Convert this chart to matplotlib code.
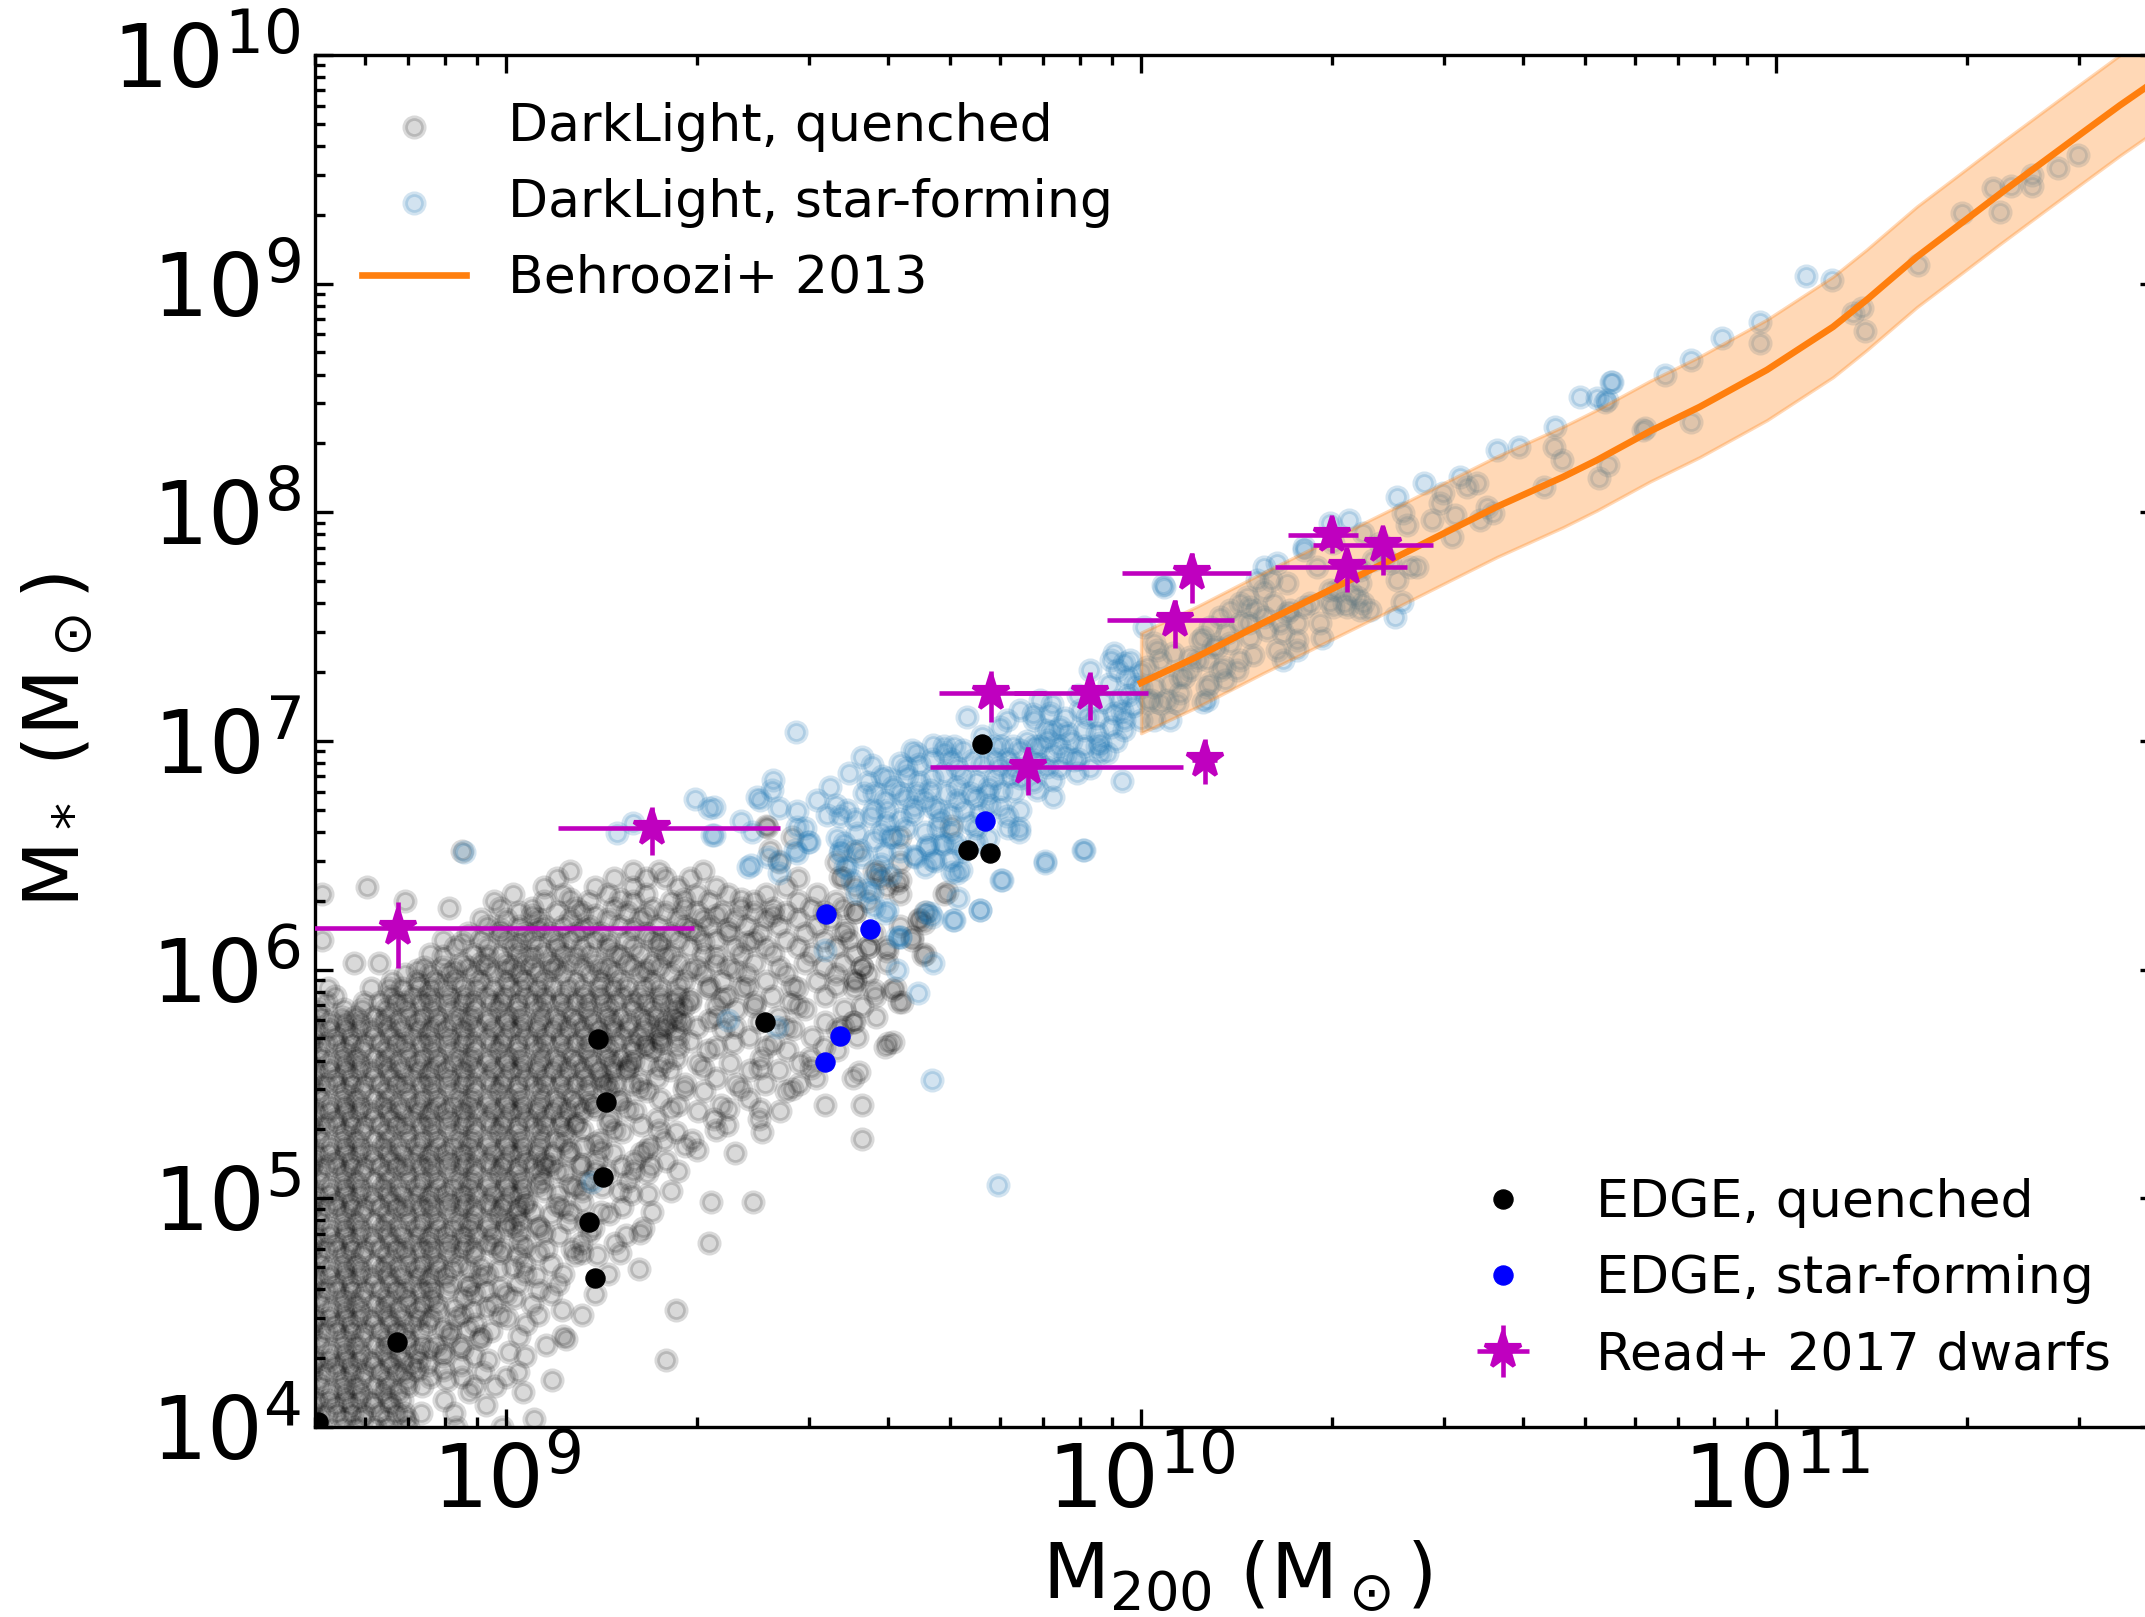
import numpy as np
import matplotlib
matplotlib.use("Agg")
import matplotlib.pyplot as plt
from matplotlib.ticker import LogLocator, NullFormatter, FixedLocator

# ---------------- data (log10 values) ----------------
# DarkLight quenched haloes: rows of (log M*, [log M200 ...])
gray_rows = [
    (4.00, [8.688, 8.709, 8.741, 8.762, 8.793, 8.812, 8.845, 8.921, 8.993]),
    (4.035, [8.703, 8.744, 8.773, 8.811, 8.843, 9.043]),
    (4.06, [8.692, 8.716, 8.733, 8.757, 8.776, 8.801, 8.826, 8.839, 8.866, 8.918]),
    (4.095, [8.697, 8.731, 8.754, 8.790, 8.818, 8.968]),
    (4.12, [8.700, 8.719, 8.748, 8.768, 8.787, 8.815, 8.836, 8.902]),
    (4.155, [8.686, 8.722, 8.746, 8.771, 8.806, 8.829, 8.941, 9.027]),
    (4.18, [8.688, 8.709, 8.741, 8.762, 8.793, 8.812, 8.845, 8.868, 8.949, 8.982]),
    (4.205, [8.703, 8.744, 8.773, 8.811, 8.843, 8.907, 9.072]),
    (4.24, [8.692, 8.716, 8.733, 8.757, 8.776, 8.801, 8.826, 8.839, 8.963, 9.018]),
    (4.27, [8.697, 8.731, 8.754, 8.790, 8.818, 8.851, 8.877, 8.929]),
    (4.295, [8.700, 8.719, 8.748, 8.768, 8.787, 8.815, 8.836, 8.862, 8.972, 9.251]),
    (4.33, [8.686, 8.722, 8.746, 8.771, 8.806, 8.829, 8.859, 8.901, 9.004]),
    (4.36, [8.688, 8.709, 8.741, 8.762, 8.793, 8.812, 8.845, 8.868, 8.890, 8.927, 9.063]),
    (4.385, [8.703, 8.744, 8.773, 8.811, 8.843, 8.958, 9.094]),
    (4.42, [8.692, 8.716, 8.733, 8.757, 8.776, 8.801, 8.826, 8.839, 8.866, 8.912, 8.976]),
    (4.45, [8.697, 8.731, 8.754, 8.790, 8.818, 8.851, 8.877, 8.951, 9.031]),
    (4.475, [8.700, 8.719, 8.748, 8.768, 8.787, 8.815, 8.836, 8.862, 8.881, 8.921, 9.002]),
    (4.51, [8.686, 8.722, 8.746, 8.771, 8.806, 8.829, 8.859, 8.892, 8.947, 9.088, 9.268]),
    (4.54, [8.688, 8.709, 8.741, 8.762, 8.793, 8.812, 8.845, 8.868, 8.890, 8.981, 9.041]),
    (4.565, [8.703, 8.744, 8.773, 8.811, 8.843, 8.882, 8.933, 9.012]),
    (4.60, [8.692, 8.716, 8.733, 8.757, 8.776, 8.801, 8.826, 8.839, 8.866, 8.883, 8.907, 8.968, 9.052]),
    (4.625, [8.697, 8.731, 8.754, 8.790, 8.818, 8.851, 8.877, 8.911, 8.942, 9.018, 9.081]),
    (4.66, [8.700, 8.719, 8.748, 8.768, 8.787, 8.815, 8.836, 8.862, 8.881, 8.904, 8.958, 9.047]),
    (4.69, [8.686, 8.722, 8.746, 8.771, 8.806, 8.829, 8.859, 8.892, 8.914, 8.941, 8.988, 9.209]),
    (4.715, [8.688, 8.709, 8.741, 8.762, 8.793, 8.812, 8.845, 8.868, 8.890, 8.925, 9.028, 9.071]),
    (4.75, [8.703, 8.744, 8.773, 8.811, 8.843, 8.882, 8.914, 8.949, 9.018, 9.109, 9.143]),
    (4.78, [8.692, 8.716, 8.733, 8.757, 8.776, 8.801, 8.826, 8.839, 8.866, 8.883, 8.907, 8.931, 8.950,
            8.993, 9.062, 9.103]),
    (4.805, [8.697, 8.731, 8.754, 8.790, 8.818, 8.851, 8.877, 8.911, 8.936, 8.969, 9.021, 9.118, 9.171, 9.319]),
    (4.84, [8.700, 8.719, 8.748, 8.768, 8.787, 8.815, 8.836, 8.862, 8.881, 8.904, 8.932, 8.953, 8.979,
            9.083, 9.188]),
    (4.87, [8.686, 8.722, 8.746, 8.771, 8.806, 8.829, 8.859, 8.892, 8.914, 8.941, 8.972, 8.999, 9.052,
            9.137, 9.216]),
    (4.895, [8.688, 8.709, 8.741, 8.762, 8.793, 8.812, 8.845, 8.868, 8.890, 8.925, 8.944, 8.973, 9.001,
             9.022, 9.097, 9.124]),
    (4.93, [8.703, 8.744, 8.773, 8.811, 8.843, 8.882, 8.914, 8.949, 8.987, 9.018, 9.071, 9.162]),
    (4.96, [8.692, 8.716, 8.733, 8.757, 8.776, 8.801, 8.826, 8.839, 8.866, 8.883, 8.907, 8.931, 8.950,
            8.978, 8.994, 9.019, 9.088, 9.183]),
    (4.985, [8.697, 8.731, 8.754, 8.790, 8.818, 8.851, 8.877, 8.911, 8.936, 8.969, 8.997, 9.031, 9.119,
             9.322, 9.388]),
    (5.02, [8.700, 8.719, 8.748, 8.768, 8.787, 8.815, 8.836, 8.862, 8.881, 8.904, 8.932, 8.953, 8.979,
            9.006, 9.024, 9.082, 9.197, 9.224]),
    (5.05, [8.686, 8.722, 8.746, 8.771, 8.806, 8.829, 8.859, 8.892, 8.914, 8.941, 8.972, 8.999, 9.027,
            9.108, 9.151]),
    (5.075, [8.688, 8.709, 8.741, 8.762, 8.793, 8.812, 8.845, 8.868, 8.890, 8.925, 8.944, 8.973, 9.001,
             9.022, 9.056, 9.128, 9.192]),
    (5.11, [8.703, 8.744, 8.773, 8.811, 8.843, 8.882, 8.914, 8.949, 8.987, 9.018, 9.054, 9.092, 9.158,
            9.221]),
    (5.14, [8.692, 8.716, 8.733, 8.757, 8.776, 8.801, 8.826, 8.839, 8.866, 8.883, 8.907, 8.931, 8.950,
            8.978, 8.994, 9.019, 9.043, 9.061, 9.117, 9.182, 9.228]),
    (5.165, [8.697, 8.731, 8.754, 8.790, 8.818, 8.851, 8.877, 8.911, 8.936, 8.969, 8.997, 9.031, 9.060,
             9.142, 9.201, 9.252]),
    (5.20, [8.700, 8.719, 8.748, 8.768, 8.787, 8.815, 8.836, 8.862, 8.881, 8.904, 8.932, 8.953, 8.979,
            9.006, 9.024, 9.049, 9.074, 9.097, 9.168, 9.213, 9.361]),
    (5.23, [8.686, 8.722, 8.746, 8.771, 8.806, 8.829, 8.859, 8.892, 8.914, 8.941, 8.972, 8.999, 9.027,
            9.052, 9.121, 9.227, 9.281]),
    (5.255, [8.688, 8.709, 8.741, 8.762, 8.793, 8.812, 8.845, 8.868, 8.890, 8.925, 8.944, 8.973, 9.001,
             9.022, 9.056, 9.079, 9.148, 9.249, 9.293]),
    (5.29, [8.703, 8.744, 8.773, 8.811, 8.843, 8.882, 8.914, 8.949, 8.987, 9.018, 9.054, 9.092, 9.182,
            9.268, 9.403]),
    (5.32, [8.692, 8.716, 8.733, 8.757, 8.776, 8.801, 8.826, 8.839, 8.866, 8.883, 8.907, 8.931, 8.950,
            8.978, 8.994, 9.019, 9.043, 9.061, 9.087, 9.108, 9.212, 9.348]),
    (5.345, [8.697, 8.731, 8.754, 8.790, 8.818, 8.851, 8.877, 8.911, 8.936, 8.969, 8.997, 9.031, 9.060,
             9.088, 9.163, 9.238, 9.327, 9.398]),
    (5.38, [8.700, 8.719, 8.748, 8.768, 8.787, 8.815, 8.836, 8.862, 8.881, 8.904, 8.932, 8.953, 8.979,
            9.006, 9.024, 9.049, 9.074, 9.097, 9.120, 9.203, 9.302, 9.431]),
    (5.41, [8.686, 8.722, 8.746, 8.771, 8.806, 8.829, 8.859, 8.892, 8.914, 8.941, 8.972, 8.999, 9.027,
            9.052, 9.083, 9.111, 9.137, 9.271, 9.338, 9.502]),
    (5.435, [8.688, 8.709, 8.741, 8.762, 8.793, 8.812, 8.845, 8.868, 8.890, 8.925, 8.944, 8.973, 9.001,
             9.022, 9.056, 9.079, 9.104, 9.178, 9.243, 9.382]),
    (5.47, [8.703, 8.744, 8.773, 8.811, 8.843, 8.882, 8.914, 8.949, 8.987, 9.018, 9.054, 9.092, 9.126,
            9.221, 9.312, 9.441]),
    (5.50, [8.692, 8.716, 8.733, 8.757, 8.776, 8.801, 8.826, 8.839, 8.866, 8.883, 8.907, 8.931, 8.950,
            8.978, 8.994, 9.019, 9.043, 9.061, 9.087, 9.108, 9.129, 9.153, 9.171, 9.198, 9.281, 9.362,
            9.408, 9.462]),
    (5.525, [8.697, 8.731, 8.754, 8.790, 8.818, 8.851, 8.877, 8.911, 8.936, 8.969, 8.997, 9.031, 9.060,
             9.088, 9.122, 9.150, 9.238, 9.331, 9.488, 9.547]),
    (5.56, [8.700, 8.719, 8.748, 8.768, 8.787, 8.815, 8.836, 8.862, 8.881, 8.904, 8.932, 8.953, 8.979,
            9.006, 9.024, 9.049, 9.074, 9.097, 9.120, 9.146, 9.169, 9.190, 9.258, 9.384, 9.429]),
    (5.59, [8.686, 8.722, 8.746, 8.771, 8.806, 8.829, 8.859, 8.892, 8.914, 8.941, 8.972, 8.999, 9.027,
            9.052, 9.083, 9.111, 9.137, 9.166, 9.194, 9.221, 9.302, 9.352, 9.463]),
    (5.615, [8.688, 8.709, 8.741, 8.762, 8.793, 8.812, 8.845, 8.868, 8.890, 8.925, 8.944, 8.973, 9.001,
             9.022, 9.056, 9.079, 9.104, 9.131, 9.158, 9.180, 9.268, 9.402, 9.478]),
    (5.65, [8.703, 8.744, 8.773, 8.811, 8.843, 8.882, 8.914, 8.949, 8.987, 9.018, 9.054, 9.092, 9.126,
            9.161, 9.199, 9.231, 9.318, 9.442, 9.521]),
    (5.68, [8.692, 8.716, 8.733, 8.757, 8.776, 8.801, 8.826, 8.839, 8.866, 8.883, 8.907, 8.931, 8.950,
            8.978, 8.994, 9.019, 9.043, 9.061, 9.087, 9.108, 9.129, 9.153, 9.171, 9.198, 9.219, 9.244,
            9.358, 9.421, 9.601]),
    (5.705, [8.697, 8.731, 8.754, 8.790, 8.818, 8.851, 8.877, 8.911, 8.936, 8.969, 8.997, 9.031, 9.060,
             9.088, 9.122, 9.150, 9.183, 9.209, 9.243, 9.271, 9.383, 9.482, 9.553]),
    (5.74, [8.700, 8.719, 8.748, 8.768, 8.787, 8.815, 8.836, 8.862, 8.881, 8.904, 8.932, 8.953, 8.979,
            9.006, 9.024, 9.049, 9.074, 9.097, 9.120, 9.146, 9.169, 9.190, 9.217, 9.240, 9.268, 9.341,
            9.452, 9.521]),
    (5.77, [8.686, 8.722, 8.746, 8.771, 8.806, 8.829, 8.859, 8.892, 8.914, 8.941, 8.972, 8.999, 9.027,
            9.052, 9.083, 9.111, 9.137, 9.166, 9.194, 9.221, 9.252, 9.278, 9.398, 9.502, 9.548]),
    (5.795, [8.688, 8.709, 8.741, 8.762, 8.793, 8.812, 8.845, 8.868, 8.890, 8.925, 8.944, 8.973, 9.001,
             9.022, 9.056, 9.079, 9.104, 9.131, 9.158, 9.180, 9.214, 9.236, 9.265, 9.331, 9.428, 9.582]),
    (5.83, [8.703, 8.744, 8.773, 8.811, 8.843, 8.882, 8.914, 8.949, 8.987, 9.018, 9.054, 9.092, 9.126,
            9.161, 9.199, 9.231, 9.268, 9.362, 9.471, 9.532]),
    (5.86, [8.716, 8.776, 8.801, 8.826, 8.839, 8.866, 8.883, 8.907, 8.931, 8.950, 8.978, 8.994, 9.019,
            9.043, 9.061, 9.087, 9.108, 9.129, 9.153, 9.171, 9.198, 9.219, 9.244, 9.262, 9.289, 9.392,
            9.448, 9.618]),
    (5.885, [8.731, 8.818, 8.851, 8.877, 8.911, 8.936, 8.969, 8.997, 9.031, 9.060, 9.088, 9.122, 9.150,
             9.183, 9.209, 9.243, 9.271, 9.348, 9.418, 9.502, 9.581]),
    (5.92, [8.719, 8.787, 8.815, 8.836, 8.862, 8.881, 8.904, 8.932, 8.953, 8.979, 9.006, 9.024, 9.049,
            9.074, 9.097, 9.120, 9.146, 9.169, 9.190, 9.217, 9.240, 9.318, 9.372, 9.458, 9.548, 9.612]),
    (5.95, [8.82, 8.86, 8.89, 8.92, 8.96, 9.00, 9.03, 9.06, 9.11, 9.15, 9.18, 9.23, 9.28, 9.34, 9.41, 9.49, 9.55]),
    (5.98, [8.84, 8.88, 8.91, 8.95, 8.98, 9.02, 9.05, 9.09, 9.13, 9.17, 9.21, 9.26, 9.31, 9.38, 9.44, 9.52, 9.57]),
    (6.01, [8.87, 8.90, 8.94, 8.97, 9.01, 9.04, 9.08, 9.12, 9.16, 9.20, 9.24, 9.30, 9.35, 9.43, 9.50, 9.56]),
    (6.03, [8.76, 8.80, 8.93, 8.96, 9.00, 9.03, 9.07, 9.10, 9.14, 9.19, 9.23, 9.27, 9.33, 9.39, 9.47, 9.53, 9.60]),
    (6.07, [8.88, 8.95, 8.99, 9.02, 9.06, 9.09, 9.13, 9.17, 9.21, 9.26, 9.31, 9.37, 9.42, 9.48, 9.55, 9.66]),
    (6.10, [8.92, 8.97, 9.01, 9.05, 9.08, 9.12, 9.16, 9.20, 9.24, 9.29, 9.36, 9.41, 9.46, 9.52, 9.57, 9.60]),
    (6.13, [8.71, 8.90, 8.96, 9.00, 9.04, 9.10, 9.14, 9.19, 9.23, 9.27, 9.33, 9.39, 9.44, 9.50, 9.54, 9.64]),
    (6.16, [8.94, 8.99, 9.03, 9.07, 9.11, 9.15, 9.22, 9.26, 9.30, 9.35, 9.40, 9.47, 9.53, 9.58]),
    (6.19, [8.97, 9.02, 9.06, 9.09, 9.13, 9.18, 9.24, 9.28, 9.32, 9.38, 9.43, 9.49, 9.62]),
    (6.22, [8.96, 9.00, 9.05, 9.10, 9.16, 9.21, 9.27, 9.31, 9.36, 9.41, 9.46, 9.51, 9.65]),
    (6.25, [9.02, 9.08, 9.12, 9.19, 9.25, 9.30, 9.34, 9.39, 9.44, 9.50, 9.55, 9.66]),
    (6.27, [8.91, 8.99, 9.04, 9.11, 9.17, 9.23, 9.28, 9.37, 9.42, 9.48, 9.53]),
    (6.30, [8.84, 8.98, 9.06, 9.13, 9.20, 9.26, 9.32, 9.39, 9.46, 9.52, 9.57]),
    (6.33, [8.71, 9.01, 9.09, 9.16, 9.22, 9.30, 9.35, 9.41, 9.49, 9.62, 9.69]),
    (6.36, [8.78, 9.06, 9.14, 9.20, 9.27, 9.33, 9.44, 9.55, 9.60]),
    (6.40, [9.08, 9.17, 9.22, 9.25, 9.29, 9.46, 9.53, 9.59]),
    (6.43, [9.10, 9.20, 9.24, 9.31, 9.58]),
    (6.47, [9.43, 9.52, 9.62]),
    (6.52, [8.93, 9.55]),
    (6.58, [9.45, 9.62]),
    (6.63, [9.41, 9.70]),
]
# extra quenched haloes in the transition zone of the cloud
gray_fill_rows = [
    (4.22, [8.88, 8.93, 9.00]),
    (4.31, [8.90, 8.95, 9.03]),
    (4.40, [8.91, 8.96, 9.02, 9.09]),
    (4.49, [8.93, 8.99, 9.05, 9.12]),
    (4.58, [8.95, 9.00, 9.07, 9.14]),
    (4.67, [8.97, 9.03, 9.09, 9.16]),
    (4.76, [8.99, 9.05, 9.12, 9.18]),
    (4.85, [9.02, 9.06, 9.13, 9.21]),
    (4.94, [9.04, 9.10, 9.15, 9.23]),
    (5.03, [9.06, 9.12, 9.18, 9.26]),
    (5.12, [9.08, 9.14, 9.20, 9.27]),
    (5.21, [9.10, 9.15, 9.22, 9.30]),
    (5.30, [9.12, 9.17, 9.24, 9.33]),
    (5.39, [9.14, 9.19, 9.26, 9.35, 9.40]),
    (5.48, [9.16, 9.21, 9.28, 9.37, 9.45]),
    (5.57, [9.19, 9.24, 9.31, 9.40, 9.48]),
    (5.66, [9.22, 9.27, 9.33, 9.41, 9.50]),
    (5.75, [9.25, 9.30, 9.36, 9.44, 9.53]),
    (5.84, [9.28, 9.33, 9.39, 9.46, 9.56]),
    (5.93, [9.27, 9.32, 9.38, 9.45, 9.52]),
    (6.00, [8.86, 8.92, 9.00, 9.07, 9.15, 9.22, 9.29, 9.36]),
    (6.06, [8.90, 8.97, 9.04, 9.11, 9.18, 9.25, 9.33]),
    (6.12, [8.93, 9.02, 9.08, 9.16, 9.24, 9.31, 9.38]),
    (6.18, [8.99, 9.05, 9.12, 9.20, 9.29, 9.35]),
    (6.24, [9.04, 9.14, 9.22, 9.33, 9.42]),
    (6.31, [9.10, 9.18, 9.28, 9.37]),
    (4.25, [8.86, 8.90]), (4.34, [8.88, 8.93]), (4.43, [8.90, 8.94]), (4.52, [8.92, 8.97]),
    (4.61, [8.94, 8.99]), (4.70, [8.96, 9.01]), (4.79, [8.98, 9.03]), (4.88, [9.01, 9.05]),
    (4.97, [9.03, 9.08]), (5.06, [9.05, 9.10]), (5.15, [9.07, 9.12]), (5.24, [9.09, 9.14]),
    (5.33, [9.11, 9.16]), (5.42, [9.13, 9.18]), (5.51, [9.16, 9.21]), (5.60, [9.20, 9.25]),
    (5.69, [9.24, 9.29]), (5.78, [9.27, 9.32]), (5.87, [9.29, 9.34]),
]
gray_extra_lx = [9.56, 9.56, 9.555, 9.597, 9.61, 9.547, 9.623, 9.58, 9.607, 9.55, 9.56, 9.60, 9.657,
                 9.639, 9.65, 9.55, 9.536, 9.57, 9.615, 9.586, 9.694, 9.526, 9.621, 9.658, 9.411, 9.416]
gray_extra_ly = [5.41, 5.26, 5.554, 5.663, 5.685, 5.773, 5.86, 5.91, 5.911, 5.955, 6.013, 6.08, 6.064,
                 6.145, 6.217, 6.254, 6.174, 6.10, 6.378, 6.429, 6.341, 6.407, 6.392, 6.203, 6.626, 6.524]

# DarkLight star-forming haloes (log M200, log M*)
blue_pts = [
    (9.456, 7.041), (9.319, 6.706), (9.395, 6.757), (9.419, 6.786), (9.421, 6.830), (9.429, 6.706),
    (9.458, 6.692), (9.458, 6.626), (9.327, 6.589), (9.387, 6.604), (9.385, 6.458), (9.458, 6.509),
    (9.477, 6.560), (9.430, 6.473), (9.505, 6.677), (9.526, 6.670), (9.537, 6.699), (9.521, 6.575),
    (9.526, 6.509), (9.537, 6.444), (9.545, 6.393), (9.568, 6.349), (9.576, 6.896), (9.563, 6.772),
    (9.579, 6.772), (9.592, 6.845), (9.597, 6.742), (9.574, 6.670), (9.600, 6.641), (9.553, 6.597),
    (9.579, 6.568), (9.605, 6.582), (9.558, 6.524), (9.595, 6.509), (9.621, 6.903), (9.631, 6.845),
    (9.645, 6.947), (9.621, 6.772), (9.647, 6.772), (9.642, 6.713), (9.668, 6.786), (9.673, 6.983),
    (9.689, 6.976), (9.673, 6.713), (9.694, 6.772), (9.684, 6.655), (9.663, 6.538), (9.642, 6.495),
    (9.673, 6.480), (9.700, 6.480), (9.710, 6.422), (9.705, 6.976), (9.726, 7.107), (9.736, 6.917),
    (9.720, 6.845), (9.731, 6.772), (9.710, 6.742), (9.747, 6.684), (9.757, 6.772), (9.768, 6.976),
    (9.778, 7.063), (9.789, 7.092), (9.799, 6.976), (9.778, 6.888), (9.794, 6.845), (9.778, 6.713),
    (9.789, 6.670), (9.807, 6.619), (9.781, 6.393), (9.747, 6.261), (9.705, 6.218), (9.668, 6.247),
    (9.621, 6.145), (9.810, 7.136), (9.831, 7.092), (9.841, 7.180), (9.857, 7.121), (9.873, 7.063),
    (9.883, 7.034), (9.852, 7.005), (9.831, 6.976), (9.862, 6.947), (9.831, 6.917), (9.852, 6.888),
    (9.862, 6.830), (9.836, 6.786), (9.862, 6.757), (9.894, 6.917), (9.910, 6.976), (9.936, 6.947),
    (9.899, 6.859), (9.970, 6.823), (9.849, 6.473), (9.910, 6.524), (9.904, 7.136), (9.915, 7.107),
    (9.931, 7.034), (9.936, 6.990), (9.946, 6.947), (9.920, 7.311), (9.952, 7.355), (9.962, 7.311),
    (9.957, 7.384), (9.973, 7.340), (9.978, 7.282), (9.983, 7.355), (9.967, 7.180), (9.973, 7.092),
    (9.973, 7.049), (9.988, 7.151), (9.957, 7.121), (9.952, 7.063), (10.015, 7.180), (10.030, 7.355),
    (10.050, 7.384), (10.067, 7.282), (10.093, 7.442), (10.104, 7.355), (10.120, 7.413), (10.041, 7.180),
    (10.020, 7.238), (10.062, 7.209), (10.104, 7.238), (10.104, 7.180), (10.036, 7.675), (10.004, 7.500),
    (10.020, 7.428), (9.532, 6.553), (9.553, 6.334), (9.579, 6.276), (9.600, 6.261), (9.616, 6.145),
    (9.60, 6.70), (9.61, 6.80), (9.63, 6.88), (9.65, 6.82), (9.66, 6.74), (9.68, 6.70), (9.69, 6.86),
    (9.70, 6.92), (9.71, 6.80), (9.72, 6.70), (9.74, 6.82), (9.75, 6.90), (9.76, 6.72), (9.77, 6.84),
    (9.79, 6.92), (9.80, 6.78), (9.81, 6.70), (9.82, 7.00), (9.84, 6.90), (9.85, 7.05), (9.87, 6.98),
    (9.88, 7.10), (9.63, 6.62), (9.66, 6.60), (9.70, 6.60), (9.74, 6.62), (9.69, 6.55), (9.72, 6.52),
    (9.64, 6.96), (9.67, 6.92), (9.60, 6.84), (9.58, 6.70), (9.55, 6.66), (9.62, 6.66), (9.75, 7.02),
    (9.78, 6.98), (9.81, 6.84), (9.83, 7.12), (9.86, 7.16), (9.89, 7.00), (9.90, 7.20), (9.93, 7.10),
    (9.95, 7.25), (9.96, 7.00), (9.99, 7.25), (10.00, 7.30), (9.90, 6.92), (9.92, 6.88),
    (9.47, 6.62), (9.49, 6.74), (9.51, 6.80), (9.52, 6.72), (9.54, 6.86), (9.56, 6.93), (9.57, 6.82),
    (9.59, 6.60), (9.61, 6.58), (9.63, 6.75), (9.64, 6.68), (9.65, 6.90), (9.67, 6.84), (9.68, 6.62),
    (9.69, 6.95), (9.70, 6.68), (9.71, 6.88), (9.72, 6.96), (9.73, 6.64), (9.74, 6.75), (9.76, 6.80),
    (9.77, 6.92), (9.78, 6.78), (9.79, 6.62), (9.80, 6.88), (9.81, 6.96), (9.83, 6.82), (9.84, 6.98),
    (9.86, 7.04), (9.87, 6.88), (9.88, 6.94), (9.91, 7.05), (9.93, 6.98), (9.94, 7.17), (9.97, 7.13),
    (9.98, 7.20), (9.74, 6.56), (9.62, 6.52), (9.66, 6.45), (9.59, 6.46),
    (9.644, 6.494), (9.665, 6.545), (9.686, 6.553), (9.707, 6.553), (9.675, 6.473), (9.702, 6.429),
    (9.717, 6.436), (9.759, 6.575), (9.807, 6.604), (9.909, 6.524), (9.849, 6.465), (9.780, 6.392),
    (9.712, 6.312), (9.746, 6.261), (9.704, 6.217), (9.670, 6.232), (9.662, 6.254), (9.597, 6.247),
    (9.620, 6.145), (9.615, 5.999), (9.673, 6.028), (9.649, 5.897), (9.670, 5.518), (9.775, 5.059),
    (9.528, 6.524), (9.560, 6.494), (9.534, 6.451), (9.581, 6.407), (9.576, 6.341), (9.605, 6.414),
    (9.350, 5.780), (9.426, 5.751), (9.381, 6.451), (9.324, 6.589), (9.174, 6.596), (8.933, 6.516),
    (9.455, 6.523), (9.476, 6.560), (9.429, 6.421), (9.413, 6.494), (9.502, 6.086), (9.135, 5.073),
    (9.297, 6.746), (9.328, 6.710), (9.200, 6.640), (9.400, 6.740), (9.370, 6.650),
    (10.035, 7.682), (10.193, 7.762), (10.256, 7.850), (10.327, 7.967), (10.403, 8.069), (10.445, 8.127),
    (10.476, 8.083), (10.503, 8.156), (10.529, 8.127), (10.560, 8.273), (10.595, 8.287), (10.652, 8.375),
    (10.650, 8.287), (10.663, 8.229), (10.634, 8.112), (10.692, 8.506), (10.718, 8.499), (10.742, 8.572),
    (10.734, 8.491), (10.721, 8.149), (10.736, 8.207), (10.791, 8.360), (10.413, 7.996), (10.419, 7.945),
    (10.458, 7.967), (10.490, 7.894), (10.495, 7.988), (10.471, 8.040), (10.513, 8.112), (10.545, 8.025),
    (10.555, 7.996), (10.534, 7.967), (10.303, 7.865), (10.382, 7.806), (10.424, 7.762), (10.403, 7.704),
    (10.434, 7.762), (10.411, 7.610), (10.400, 7.544), (10.361, 7.573), (10.350, 7.602), (10.319, 7.602),
    (10.303, 7.588), (10.340, 7.631), (10.345, 7.690), (10.298, 7.660), (10.256, 7.588), (10.282, 7.515),
    (10.285, 7.449), (10.235, 7.573), (10.245, 7.515), (10.224, 7.471), (10.214, 7.398), (10.177, 7.376),
    (10.140, 7.427), (10.130, 7.325), (10.114, 7.413), (10.098, 7.456), (10.088, 7.354), (10.077, 7.310),
    (10.046, 7.252), (10.056, 7.165), (10.009, 7.180), (10.009, 7.325), (10.025, 7.398), (10.020, 7.092),
    (10.098, 7.172), (10.109, 7.252), (10.125, 7.310), (10.156, 7.354), (10.172, 7.588), (10.156, 7.602),
    (10.193, 7.660), (10.204, 7.704), (10.183, 7.704), (10.230, 7.690), (10.214, 7.777), (10.230, 7.558),
    (10.266, 7.602), (10.298, 7.610), (10.324, 7.588), (10.345, 7.573), (10.308, 7.660), (10.330, 7.646),
    (10.377, 7.865), (10.366, 7.792), (10.345, 7.748), (10.392, 7.777), (10.350, 7.908), (10.298, 7.952),
    (10.256, 7.835), (10.277, 7.762), (10.167, 7.631), (10.156, 7.515), (10.140, 7.573), (10.125, 7.544),
    (10.109, 7.500), (10.135, 7.471), (10.172, 7.456), (10.198, 7.485), (10.219, 7.515), (10.245, 7.442),
    (10.245, 7.398), (10.224, 7.354), (10.170, 7.515), (10.182, 7.573), (10.193, 7.544), (10.209, 7.602),
    (10.151, 7.310), (10.077, 7.369), (10.062, 7.281), (10.030, 7.165), (10.000, 7.092), (10.000, 7.238),
    (10.046, 7.092), (10.133, 7.267),
    (10.741, 8.572), (10.731, 8.484), (10.794, 8.368), (10.825, 8.601), (10.867, 8.667), (10.867, 8.397),
    (10.915, 8.761), (10.975, 8.834), (10.975, 8.739), (11.048, 9.034), (11.088, 9.016), (11.122, 8.871),
    (11.135, 8.893), (11.140, 8.791), (11.224, 9.082), (11.293, 9.308), (11.342, 9.417), (11.353, 9.315),
    (11.371, 9.425), (11.403, 9.476), (11.403, 9.425), (11.445, 9.505), (11.476, 9.563),
]

# Behroozi+ 2013 relation (log M200, log M*, band edges)
beh_lx = [10.0, 10.088, 10.192, 10.298, 10.403, 10.507, 10.561, 10.665, 10.718, 10.802, 10.880,
          10.986, 11.090, 11.143, 11.222, 11.301, 11.353, 11.405, 11.483, 11.542, 11.62]
beh_ly = [7.254, 7.368, 7.516, 7.661, 7.805, 7.950, 8.025, 8.155, 8.228, 8.355, 8.461,
          8.623, 8.811, 8.929, 9.117, 9.283, 9.393, 9.500, 9.660, 9.780, 9.930]
beh_hi = [7.474, 7.588, 7.736, 7.881, 8.025, 8.170, 8.245, 8.375, 8.448, 8.575, 8.681,
          8.843, 9.031, 9.149, 9.337, 9.503, 9.613, 9.720, 9.880, 10.000, 10.150]
beh_lo = [7.034, 7.148, 7.296, 7.441, 7.585, 7.730, 7.805, 7.935, 8.008, 8.135, 8.241,
          8.403, 8.591, 8.709, 8.897, 9.063, 9.173, 9.280, 9.440, 9.560, 9.710]

# EDGE simulations
edge_q_lx = [9.145, 9.157, 9.153, 9.131, 9.140, 8.828, 8.704, 9.408, 9.750, 9.728, 9.762]
edge_q_ly = [5.697, 5.422, 5.094, 4.897, 4.652, 4.373, 4.020, 5.772, 6.987, 6.524, 6.511]
edge_sf_lx = [9.504, 9.573, 9.754, 9.526, 9.502]
edge_sf_ly = [6.244, 6.178, 6.651, 5.711, 5.597]

# Read+ 2017 dwarfs
read_lx = [8.830, 9.230, 9.764, 9.920, 9.822, 10.101, 10.054, 10.080, 10.301, 10.381, 10.324]
read_ly = [6.183, 6.620, 7.210, 7.210, 6.887, 6.917, 7.530, 7.735, 7.901, 7.857, 7.761]
read_lx_lo = [8.55, 9.082, 9.682, 9.800, 9.668, 10.080, 9.946, 9.970, 10.231, 10.271, 10.211]
read_lx_hi = [9.296, 9.431, 9.850, 10.011, 10.066, 10.120, 10.146, 10.173, 10.342, 10.460, 10.419]
read_ly_lo = [6.008, 6.502, 7.083, 7.090, 6.764, 6.810, 7.407, 7.604, 7.822, 7.726, 7.652]
read_ly_hi = [6.296, 6.712, 7.306, 7.300, 6.974, 7.010, 7.617, 7.822, 7.980, 7.936, 7.836]

x_major = [1e9, 1e10, 1e11]
y_major = [1e4, 1e5, 1e6, 1e7, 1e8, 1e9, 1e10]

# ---------------- plotting ----------------
gx, gy = [], []
for ly, xs in gray_rows + gray_fill_rows:
    for lx in xs:
        gx.append(lx)
        gy.append(ly)
gx = np.array(gx + gray_extra_lx)
gy = np.array(gy + gray_extra_ly)
bx = np.array([p[0] for p in blue_pts])
by = np.array([p[1] for p in blue_pts])

fig = plt.figure(figsize=(7.15, 5.39), dpi=300)
ax = fig.add_axes([0.1469, 0.1175, 0.8592, 0.8485])
ax.set_xscale('log')
ax.set_yscale('log')

h_gray = ax.scatter(10**gx, 10**gy, s=20, c='k', alpha=0.15, linewidths=1.3,
                    label='DarkLight, quenched', zorder=1)
h_blue = ax.scatter(10**bx, 10**by, s=20, c='C0', alpha=0.2, linewidths=1.3,
                    label='DarkLight, star-forming', zorder=1.5)

blx = 10**np.array(beh_lx)
ax.fill_between(blx, 10**np.array(beh_lo), 10**np.array(beh_hi), color='C1', alpha=0.3,
                linewidth=0.8, zorder=2)
h_line, = ax.plot(blx, 10**np.array(beh_ly), color='C1', lw=1.6, label='Behroozi+ 2013', zorder=3)

rx = 10**np.array(read_lx)
ry = 10**np.array(read_ly)
xerr = [rx - 10**np.array(read_lx_lo), 10**np.array(read_lx_hi) - rx]
yerr = [ry - 10**np.array(read_ly_lo), 10**np.array(read_ly_hi) - ry]
h_read = ax.errorbar(rx, ry, xerr=xerr, yerr=yerr, fmt='*', color='m', ms=9,
                     elinewidth=1.1, capsize=0, label='Read+ 2017 dwarfs', zorder=4)

h_eq, = ax.plot(10**np.array(edge_q_lx), 10**np.array(edge_q_ly), 'o', color='k', ms=4.6,
                mew=0.3, label='EDGE, quenched', zorder=5)
h_esf, = ax.plot(10**np.array(edge_sf_lx), 10**np.array(edge_sf_ly), 'o', color='b', ms=4.6,
                 mew=0.3, label='EDGE, star-forming', zorder=5)

ax.set_xlim(5e8, 4e11)
ax.set_ylim(1e4, 1e10)

ax.xaxis.set_major_locator(FixedLocator(x_major))
ax.yaxis.set_major_locator(FixedLocator(y_major))
for axis in (ax.xaxis, ax.yaxis):
    axis.set_minor_locator(LogLocator(base=10, subs=np.arange(2, 10), numticks=200))
    axis.set_minor_formatter(NullFormatter())

ax.tick_params(which='both', direction='in', top=True, right=True, labelsize=21, width=0.8)
ax.tick_params(which='major', length=4.3)
ax.tick_params(which='minor', length=2.4)
for sp in ax.spines.values():
    sp.set_linewidth(0.8)

ax.set_xlabel(r'M$_{200}$ (M$_\odot$)', fontsize=18.6, labelpad=3)
ax.set_ylabel(r'M$_*$ (M$_\odot$)', fontsize=18.6)

leg1 = ax.legend(handles=[h_gray, h_blue, h_line], loc='upper left', frameon=False,
                 fontsize=12.5, scatterpoints=1)
ax.add_artist(leg1)
ax.legend(handles=[h_eq, h_esf, h_read], loc='lower right', frameon=False, fontsize=12.5,
          numpoints=1)

fig.savefig('out.png', dpi=300)
